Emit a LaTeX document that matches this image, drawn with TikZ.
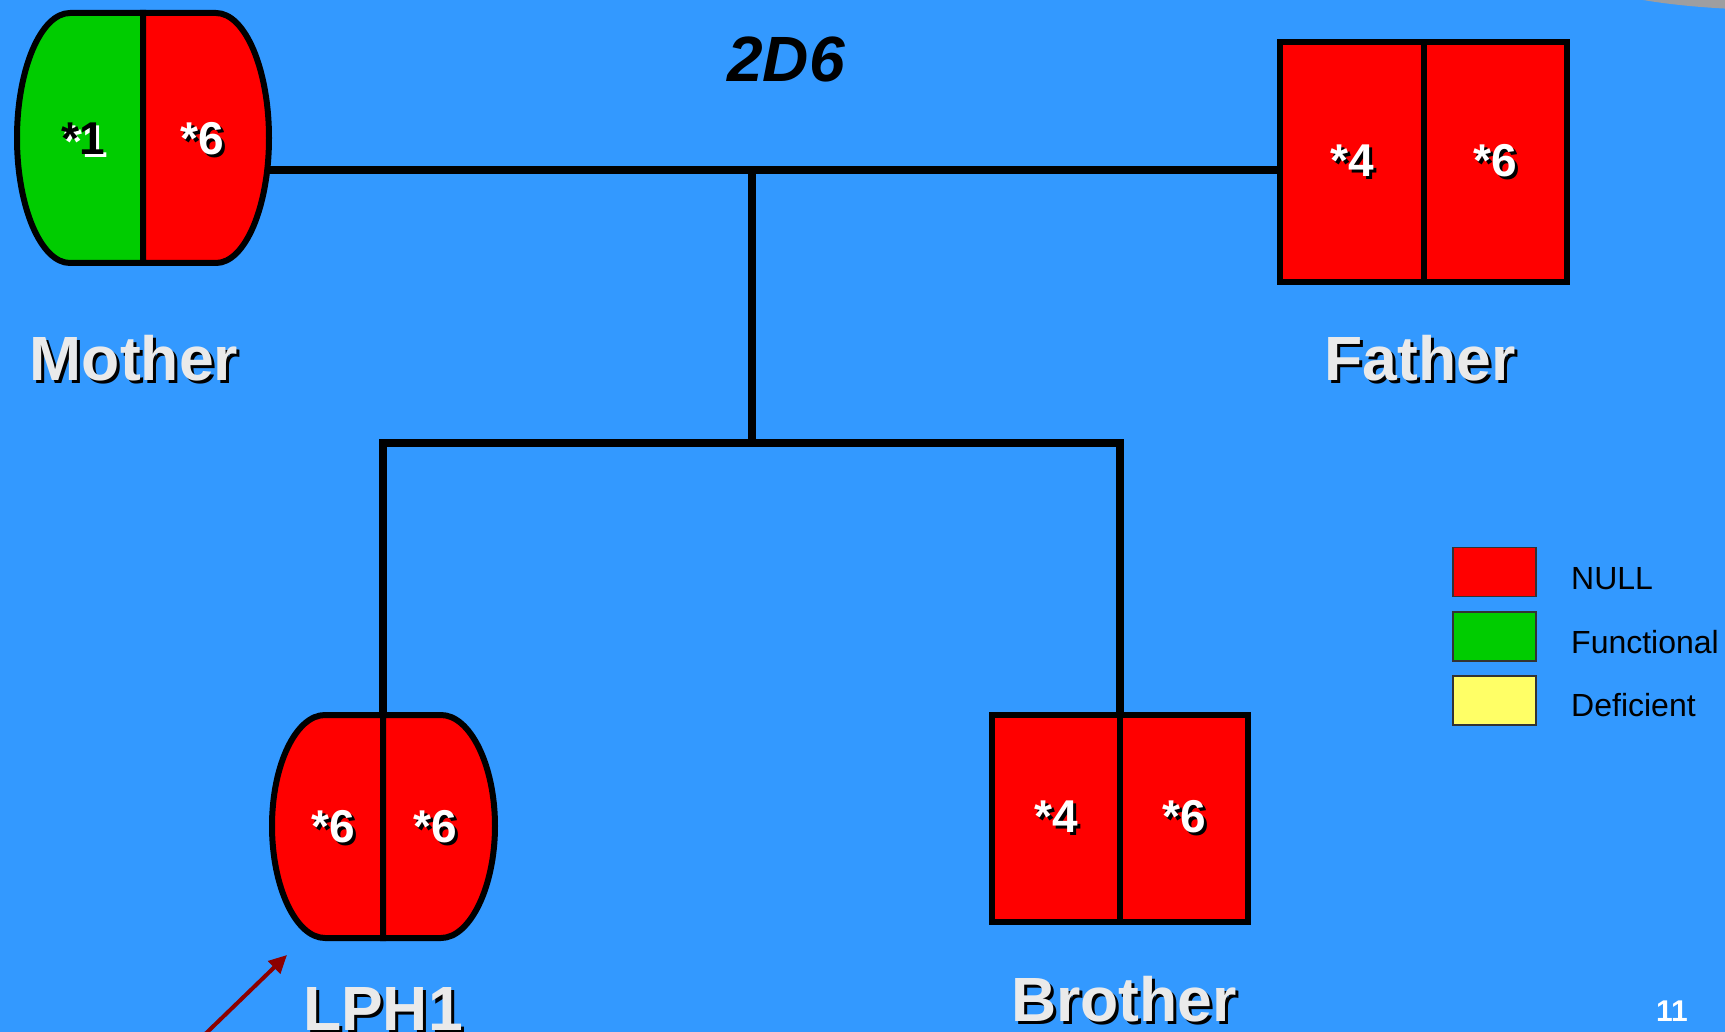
\documentclass[tikz,border=0pt]{standalone}
\usepackage{fontspec}
\setmainfont{Liberation Sans}
\usepackage{tikz}
\usetikzlibrary{arrows.meta}

\definecolor{slideblue}{RGB}{51,153,255}
\definecolor{nullred}{RGB}{255,0,0}
\definecolor{funcgreen}{RGB}{0,204,0}
\definecolor{defyellow}{RGB}{255,255,102}
\definecolor{labelgray}{RGB}{234,234,234}
\definecolor{arrowred}{RGB}{140,0,0}
\definecolor{blobgray}{RGB}{158,158,160}

% text with a drop shadow
\newcommand{\dropsh}[2][black]{\rlap{\kern3pt\raisebox{-3pt}{\color{#1}#2}}#2}

\tikzset{
  allele/.style = {text=white, inner sep=0pt, font=\bfseries\fontsize{46}{55}\selectfont},
  halfbox/.style = {allele, draw=black, line width=6pt, fill=nullred, outer sep=0pt},
  member/.style = {text=labelgray, inner sep=0pt, anchor=base, font=\bfseries\fontsize{62.5}{75}\selectfont},
  keybox/.style = {draw=black!80, line width=1.5pt, minimum width=83, minimum height=49, inner sep=0pt},
  keytext/.style = {anchor=base west, inner sep=0pt, font=\fontsize{32}{38}\selectfont},
  link/.style = {line width=8pt},
}

\begin{document}
\begin{tikzpicture}[x=1pt, y=-1pt]
\useasboundingbox (0,0) rectangle (1725,1032);
\fill[slideblue] (0,0) rectangle (1725,1032);
\fill[blobgray] (1780,-30) ellipse (207 and 40);

% title
\node[inner sep=0pt, anchor=base, font=\bfseries\itshape\fontsize{64}{76}\selectfont] (title) at (786,82) {2D6};

% mother
\draw[line width=6pt, fill=funcgreen] (143,13) -- (70,13) .. controls (41,13) and (17,69) .. (17,138)
  .. controls (17,207) and (41,263) .. (70,263) -- (143,263) -- cycle;
\draw[line width=6pt, fill=nullred] (143,13) -- (216,13) .. controls (245,13) and (269,69) .. (269,138)
  .. controls (269,207) and (245,263) .. (216,263) -- (143,263) -- cycle;
\node[allele, text=black] (m1) at (83,140) {\dropsh[white]{*1}};
\node[allele] (m6) at (202,140) {\dropsh{*6}};
\coordinate (mom-r) at (270,170);
\node[member] (mother) at (134,381) {\dropsh{Mother}};

% father
\node[halfbox, minimum width=144, minimum height=240] (f4) at (1352,162) {\dropsh{*4}};
\node[halfbox, minimum width=143, minimum height=240] (f6) at (1495.5,162) {\dropsh{*6}};
\node[member] (father) at (1420,381) {\dropsh{Father}};

% LPH1
\draw[line width=6pt, fill=nullred] (383,715) -- (325,715) .. controls (296,715) and (272,765) .. (272,826)
  .. controls (272,887) and (296,938) .. (325,938) -- (383,938) -- cycle;
\draw[line width=6pt, fill=nullred] (383,715) -- (441,715) .. controls (470,715) and (495,765) .. (495,826)
  .. controls (495,887) and (470,938) .. (441,938) -- (383,938) -- cycle;
\node[allele] (l6a) at (333,828) {\dropsh{*6}};
\node[allele] (l6b) at (435,828) {\dropsh{*6}};
\coordinate (lph-top) at (383,715);
\node[member] (lph) at (383,1030) {\dropsh{LPH1}};

% brother
\node[halfbox, minimum width=128, minimum height=207] (b4) at (1056,818.5) {\dropsh{*4}};
\node[halfbox, minimum width=128, minimum height=207] (b6) at (1184,818.5) {\dropsh{*6}};
\node[member] (brother) at (1124,1021) {\dropsh{Brother}};

% pedigree lines
\coordinate (mate) at (752,170);
\coordinate (sib) at (752,443);
\draw[link] (mom-r) -- (mom-r -| f4.west);
\draw[link] (mate) -- (sib);
\draw[link] (lph-top) |- (sib) -| (b4.north east);

% proband arrow
\coordinate (arr-tail) at (197,1042);
\coordinate (arr-tip) at (287,955);
\draw[arrowred, line width=4pt, -{Triangle[length=18pt, width=17pt]}] (arr-tail) -- (arr-tip);

% legend
\node[keybox, fill=nullred] (k-null) at (1494.5,572) {};
\node[keybox, fill=funcgreen] (k-func) at (1494.5,636.5) {};
\node[keybox, fill=defyellow] (k-def) at (1494.5,700.5) {};
\node[keytext] (t-null) at (1571,589) {NULL};
\node[keytext] (t-func) at (1571,653) {Functional};
\node[keytext] (t-def) at (1571,716) {Deficient};

% slide number
\node[inner sep=0pt, anchor=base, text=white, font=\bfseries\fontsize{30}{36}\selectfont] (page) at (1672,1021) {11};
\end{tikzpicture}
\end{document}
